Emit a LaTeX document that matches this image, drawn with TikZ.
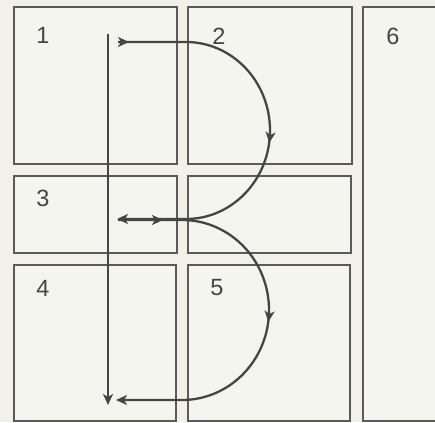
\documentclass[tikz,border=0pt]{standalone}
\usepackage{fontspec}
\setmainfont{Liberation Sans}
\usetikzlibrary{arrows.meta,decorations.markings}
\definecolor{paper}{HTML}{F1F1E9}
\definecolor{boxfill}{HTML}{F5F5F0}
\definecolor{boxline}{HTML}{5A5A5A}
\definecolor{ink}{HTML}{454545}
\tikzset{
  panel/.style={draw=boxline, line width=1.6pt, fill=boxfill},
  num/.style={text=ink, font=\fontsize{23.5}{28}\selectfont, inner sep=0pt},
  flow/.style={draw=ink, line width=2.3pt},
  tip/.style={-{Stealth[length=11pt,width=10pt,inset=3pt]}},
}
\begin{document}
\begin{tikzpicture}[x=1pt,y=-1pt]
\clip (0,0) rectangle (435,422);
\useasboundingbox (0,0) rectangle (435,422);
\fill[paper] (0,0) rectangle (435,422);
% panels
\draw[panel] (14,7) rectangle (177,164);
\draw[panel] (188,7) rectangle (352,164);
\draw[panel] (363,7) rectangle (450,421);
\draw[panel] (14,176) rectangle (177,253);
\draw[panel] (188,176) rectangle (351,253);
\draw[panel] (14,265) rectangle (176,421);
\draw[panel] (188,265) rectangle (350,421);
% labels
\node[num] (l1) at (43,35) {1};
\node[num] (l2) at (219,36) {2};
\node[num] (l6) at (393,36) {6};
\node[num] (l3) at (43,198) {3};
\node[num] (l4) at (43,288) {4};
\node[num] (l5) at (217,288) {5};
% connector coordinates
\coordinate (vtop) at (108,34);
\coordinate (vbot) at (108,405);
\coordinate (aStart) at (118,42);
\coordinate (aTop) at (186,42);
\coordinate (aEnd) at (117,219);
\coordinate (bStart) at (118,220);
\coordinate (bTop) at (182,220);
\coordinate (bEnd) at (116,400);
% vertical arrow
\draw[flow,tip] (vtop) -- (vbot);
% upper loop
\draw[flow,tip,
  postaction={decorate},
  decoration={markings,
    mark=at position 11pt with {\arrow{Stealth[length=11pt,width=10pt,inset=3pt]}},
    mark=at position 216pt with {\arrow{Stealth[length=11pt,width=10pt,inset=3pt]}}}]
  (aStart) -- (aTop) arc[start angle=-90, end angle=90, x radius=84, y radius=88.5] -- (aEnd);
% lower loop
\draw[flow,tip,
  postaction={decorate},
  decoration={markings,
    mark=at position 45pt with {\arrow{Stealth[length=11pt,width=10pt,inset=3pt]}},
    mark=at position 215pt with {\arrow{Stealth[length=11pt,width=10pt,inset=3pt]}}}]
  (bStart) -- (bTop) arc[start angle=-90, end angle=90, x radius=87, y radius=90] -- (bEnd);
\end{tikzpicture}
\end{document}
